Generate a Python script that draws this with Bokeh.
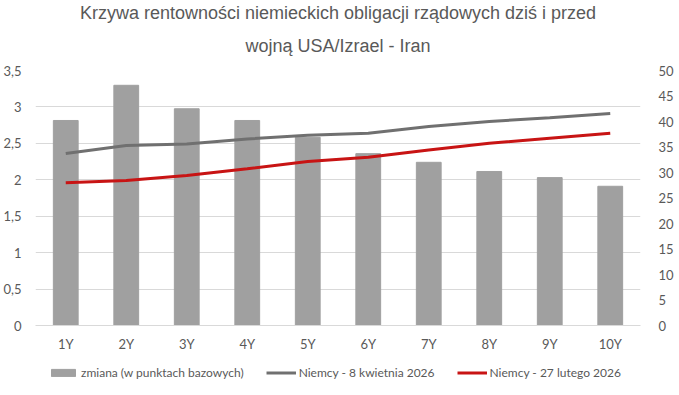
from bokeh.plotting import figure
from bokeh.layouts import column
from bokeh.models import Range1d, LinearAxis, FixedTicker, Legend, LegendItem, FactorRange, Title
from bokeh.embed import file_html
from bokeh.resources import INLINE

categories = ["1Y", "2Y", "3Y", "4Y", "5Y", "6Y", "7Y", "8Y", "9Y", "10Y"]
zmiana_bp = [40.2, 47.1, 42.5, 40.2, 36.9, 33.7, 32.0, 30.2, 29.0, 27.3]
niemcy_8_kwietnia = [2.36, 2.47, 2.49, 2.56, 2.61, 2.64, 2.73, 2.80, 2.85, 2.91]
niemcy_27_lutego = [1.96, 1.99, 2.06, 2.15, 2.25, 2.31, 2.41, 2.50, 2.57, 2.64]
left_ticks = [0, 0.5, 1, 1.5, 2, 2.5, 3, 3.5]
right_ticks = [0, 5, 10, 15, 20, 25, 30, 35, 40, 45, 50]
title_lines = ["Krzywa rentowności niemieckich obligacji rządowych dziś i przed",
               "wojną USA/Izrael - Iran"]
series_names = ["zmiana (w punktach bazowych)", "Niemcy - 8 kwietnia 2026", "Niemcy - 27 lutego 2026"]

TXT = "#595959"
FONT = "Lato"
BAR_C = "#a0a0a0"
GRAY_C = "#707070"
RED_C = "#c81414"

p = figure(x_range=FactorRange(*categories, range_padding=0), y_range=Range1d(0, 3.5),
           frame_width=605, frame_height=255, output_backend="svg", toolbar_location=None,
           min_border_left=30, min_border_right=28, min_border_top=70, min_border_bottom=30)
p.title = None
p.outline_line_color = None
p.extra_y_ranges = {"bp": Range1d(0, 50)}

# line 2 first (closest to the plot), then line 1
title_standoffs = {1: 30, 0: -9}
for idx in (1, 0):
    t = Title(text=title_lines[idx], align="center",
              text_font="Liberation Sans", text_font_size="18px",
              text_font_style="normal", text_color=TXT, text_line_height=1.0,
              standoff=title_standoffs[idx])
    p.add_layout(t, "above")

bars = p.vbar(x=categories, top=zmiana_bp, width=0.41, color=BAR_C, y_range_name="bp")
l1 = p.line(x=categories, y=niemcy_8_kwietnia, line_color=GRAY_C, line_width=3)
l2 = p.line(x=categories, y=niemcy_27_lutego, line_color=RED_C, line_width=3)

ya = p.yaxis[0]
ya.ticker = FixedTicker(ticks=left_ticks)
ya.major_label_overrides = {t: (str(t).replace(".", ",") if t % 1 else str(int(t))) for t in left_ticks}
ya.axis_line_color = None
ya.major_tick_line_color = None
ya.minor_tick_line_color = None
ya.major_label_standoff = 8
ya.major_label_text_font = FONT
ya.major_label_text_font_size = "13px"
ya.major_label_text_color = TXT

ra = LinearAxis(y_range_name="bp", ticker=FixedTicker(ticks=right_ticks))
ra.axis_line_color = None
ra.major_tick_line_color = None
ra.minor_tick_line_color = None
ra.major_label_standoff = 12
ra.major_label_text_font = FONT
ra.major_label_text_font_size = "13px"
ra.major_label_text_color = TXT
p.add_layout(ra, "right")

xa = p.xaxis[0]
xa.axis_line_color = "#d9d9d9"
xa.major_tick_line_color = None
xa.minor_tick_line_color = None
xa.major_label_standoff = 4
xa.major_label_text_font = FONT
xa.major_label_text_font_size = "13px"
xa.major_label_text_color = TXT

p.xgrid.grid_line_color = None
p.ygrid.grid_line_color = "#d9d9d9"
p.ygrid.ticker = FixedTicker(ticks=left_ticks)

# legend strip below the chart (sample glyphs kept outside the visible range)
lf = figure(width=663, height=32, output_backend="svg", toolbar_location=None,
            x_range=Range1d(0, 1), y_range=Range1d(0, 1),
            min_border=0, x_axis_type=None, y_axis_type=None)
lf.title = None
lf.outline_line_color = None
lf.grid.visible = False
r0 = lf.vbar(x=[-5], top=[-5], width=0.1, color=BAR_C)
r1 = lf.line(x=[-5, -4], y=[-5, -5], line_color=GRAY_C, line_width=3)
r2 = lf.line(x=[-5, -4], y=[-5, -5], line_color=RED_C, line_width=3)
legend = Legend(items=[
    LegendItem(label=series_names[0], renderers=[r0]),
    LegendItem(label=series_names[1], renderers=[r1]),
    LegendItem(label=series_names[2], renderers=[r2]),
], orientation="horizontal", location=(13, 7), border_line_color=None,
   background_fill_alpha=0,
   label_text_font=FONT, label_text_font_size="12px", label_text_color=TXT,
   glyph_width=30, glyph_height=9, spacing=22, padding=4, margin=0, label_standoff=3)
lf.add_layout(legend, "center")

open("out.html", "w").write(file_html(column(p, lf, spacing=0), INLINE))
